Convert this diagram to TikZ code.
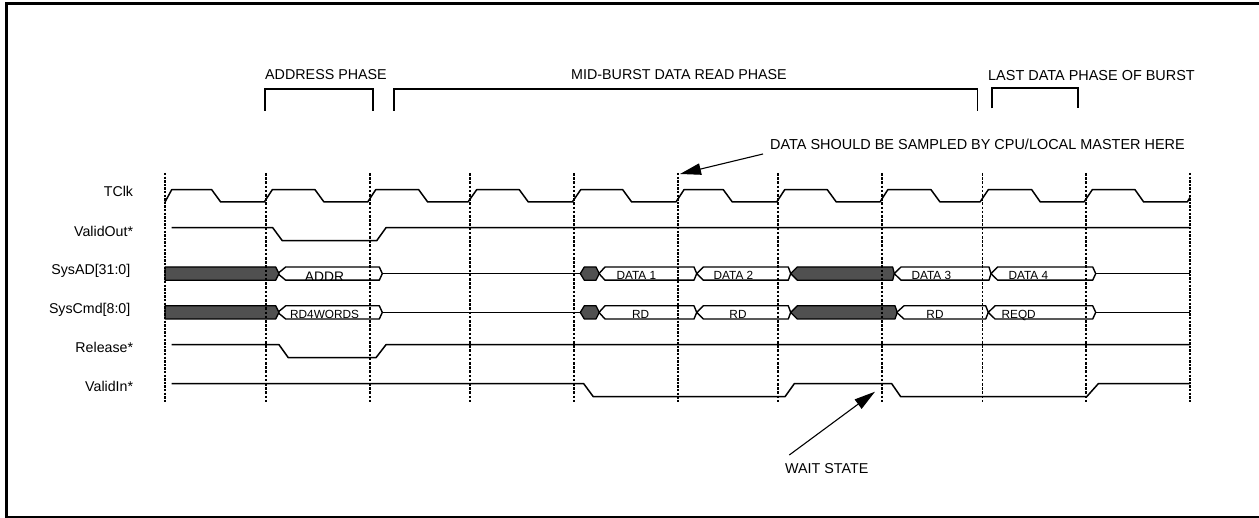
\documentclass[tikz,border=0pt]{standalone}
\usepackage{fontspec}
\setmainfont{Liberation Sans}
\usetikzlibrary{arrows.meta}
\definecolor{busdark}{HTML}{505050}
\newcommand\hexa[7]{% style, lefttip, topleft, topright, righttip, top, bottom
  \draw[#1] (#2,{(#6+#7)/2}) -- (#3,#6) -- (#4,#6) -- (#5,{(#6+#7)/2}) -- (#4,#7) -- (#3,#7) -- cycle;}
\tikzset{
  x=1pt,y=-1pt,
  frameline/.style={line width=2.7pt,line cap=butt,line join=miter},
  wave/.style={line width=1.5pt,line join=round},
  bracket/.style={line width=1.6pt,line join=miter},
  whitebus/.style={line width=1.4pt,line join=round},
  darkbus/.style={line width=1.3pt,fill=busdark,line join=round},
  grid/.style={line width=1.3pt,dash pattern=on 2.6pt off 1.6pt},
  gridheavy/.style={line width=2pt,dash pattern=on 2.4pt off 1.2pt},
  sig/.style={anchor=base east,font=\fontsize{14.2}{16}\selectfont,inner sep=0pt},
  lab/.style={anchor=base west,font=\fontsize{14.3}{16}\selectfont,inner sep=0pt},
  labwide/.style={anchor=base west,font=\fontsize{14.45}{16}\selectfont,inner sep=0pt},
  small/.style={anchor=base,font=\fontsize{11.8}{14}\selectfont,inner sep=0pt},
  big/.style={anchor=base,font=\fontsize{13.8}{14}\selectfont,inner sep=0pt},
  pointer/.style={line width=1.1pt,-{Triangle[length=21pt,width=11.5pt]}},
}
\begin{document}
\begin{tikzpicture}
\useasboundingbox (0,0) rectangle (1259,518);
\fill[white] (0,0) rectangle (1259,518);
\draw[frameline] (1259,3.4) -- (6.7,3.4) -- (6.7,517.2) -- (1259,517.2);

% phase labels and brackets
\node[lab] (addrphase) at (265,80) {ADDRESS PHASE};
\node[lab] (midphase) at (571,79.5) {MID-BURST DATA READ PHASE};
\node[labwide] (lastphase) at (988,80.5) {LAST DATA PHASE OF BURST};
\node[labwide] (samplenote) at (770,150) {DATA SHOULD BE SAMPLED BY CPU/LOCAL MASTER HERE};
\node[lab] (waitnote) at (785,474) {WAIT STATE};
\draw[bracket] (265,110.7) -- (265,89) -- (373,89) -- (373,110.7);
\draw[bracket] (394,110.7) -- (394,89) -- (977.5,89) -- (977.5,110.7);
\draw[bracket] (992,108.3) -- (992,88) -- (1078,88) -- (1078,108.3);

% signal names
\node[sig] (nclk) at (133.3,196.7) {TClk};
\node[sig] (nvo) at (133.3,236.7) {ValidOut*};
\node[sig] (nad) at (130.5,275) {SysAD[31:0]};
\node[sig] (ncmd) at (130.5,314) {SysCmd[8:0]};
\node[sig] (nrel) at (133.3,352.7) {Release*};
\node[sig] (nvi) at (133.3,391.7) {ValidIn*};

% TClk
\draw[wave] (165,202) -- (171.7,189.7) -- (211.7,189.7) -- (220.7,202)
  -- (264.3,202) -- (272.3,189.7) -- (315,189.7) -- (324,202)
  -- (367.7,202) -- (375.7,189.7) -- (418.7,189.7) -- (427.7,202)
  -- (468,202) -- (476.7,189.7) -- (519.3,189.7) -- (528.3,202)
  -- (572.3,202) -- (580.7,189.7) -- (622.7,189.7) -- (631.7,202)
  -- (676,202) -- (684,189.7) -- (723.3,189.7) -- (732.3,202)
  -- (776.7,202) -- (784.7,189.7) -- (827.3,189.7) -- (836.3,202)
  -- (880,202) -- (887.8,189.7) -- (931,189.7) -- (940,202)
  -- (980,202) -- (988.3,189.7) -- (1031.7,189.7) -- (1040.3,202)
  -- (1084,202) -- (1092.3,189.7) -- (1135,189.7) -- (1143.7,202)
  -- (1187.3,202) -- (1190,197.5);

% ValidOut*
\draw[wave] (171.7,227.7) -- (272.7,227.7) -- (282.3,240.7) -- (376.7,240.7) -- (386,227.7) -- (1190,227.7);
% Release*
\draw[wave] (171.7,344.7) -- (279,344.7) -- (288.3,357.7) -- (376,357.7) -- (386,344.7) -- (1190,344.7);
% ValidIn*
\draw[wave] (171.7,383.7) -- (583.7,383.7) -- (593.3,396.7) -- (785,396.7) -- (794.3,383.7)
  -- (891.7,383.7) -- (900.7,396.7) -- (1086.7,396.7) -- (1098.3,383.7) -- (1190,383.7);

% bus texts lie under the bus outlines
\node[big] (tad0) at (324.5,281.2) {ADDR};
\node[small] (tad1) at (636.3,279.8) {DATA 1};
\node[small] (tad2) at (733.5,279.8) {DATA 2};
\node[small] (tad3) at (931.3,279.8) {DATA 3};
\node[small] (tad4) at (1028.3,279.8) {DATA 4};
\node[small] (tc0) at (324.6,319) {RD4WORDS};
\node[small] (tc1) at (640.6,319) {RD};
\node[small] (tc2) at (738,319) {RD};
\node[small] (tc3) at (935,319) {RD};
\node[small] (tc4) at (1018.7,319) {REQD};

% SysAD idle lines
\draw[wave] (382.3,273.6) -- (580.3,273.6);
\draw[wave] (1095.7,273.6) -- (1190,273.6);
% SysCmd idle lines
\draw[wave] (382.3,312.4) -- (580.3,312.4);
\draw[wave] (1095.7,312.4) -- (1190,312.4);

% SysAD bus
\hexa{whitebus}{277.7}{285.7}{379.3}{382.3}{267}{280.2}
\draw[darkbus] (165,267) -- (275.7,267) -- (279,273.6) -- (275.7,280.2) -- (165,280.2) -- cycle;
\hexa{darkbus}{580.3}{584.3}{596}{599.3}{267}{280.2}
\hexa{whitebus}{599}{605}{694}{696.7}{267}{280.2}
\hexa{whitebus}{696.7}{703.3}{788.3}{790.7}{267}{280.2}
\hexa{darkbus}{790.7}{797.3}{892.7}{894.3}{267}{280.2}
\hexa{whitebus}{894.3}{901}{989}{991}{267}{280.2}
\hexa{whitebus}{991}{997.7}{1092.7}{1095.7}{267}{280.2}
% SysCmd bus
\hexa{whitebus}{277.7}{285.7}{379.3}{382.3}{305.8}{319}
\draw[darkbus] (165,305.8) -- (275.7,305.8) -- (279,312.4) -- (275.7,319) -- (165,319) -- cycle;
\hexa{darkbus}{580.3}{584.3}{596}{599.3}{305.8}{319}
\hexa{whitebus}{599}{605}{694}{696.7}{305.8}{319}
\hexa{whitebus}{696.7}{703.3}{788.3}{790.7}{305.8}{319}
\hexa{darkbus}{790.7}{797.3}{895}{897.3}{305.8}{319}
\hexa{whitebus}{896.7}{904}{985.7}{988.3}{305.8}{319}
\hexa{whitebus}{988.3}{995}{1092.7}{1095.7}{305.8}{319}

% clock grid
\foreach \gx in {266,370,470,574,778,882,982.5,1086}
  \draw[grid] (\gx,173) -- (\gx,403);
\foreach \gx in {165,677.5,1189.5}
  \draw[gridheavy] (\gx,173) -- (\gx,403);

% pointers
\coordinate (sampletail) at (763,154);
\coordinate (sampletip) at (680,174);
\coordinate (waittail) at (789.3,455);
\coordinate (waittip) at (875,391.7);
\draw[pointer] (sampletail) -- (sampletip);
\draw[pointer] (waittail) -- (waittip);
\end{tikzpicture}
\end{document}
